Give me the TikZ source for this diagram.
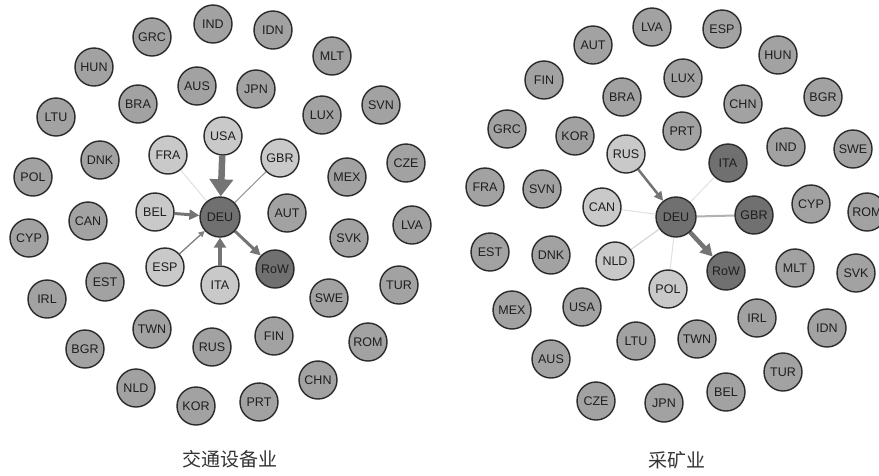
\documentclass[tikz,border=0pt]{standalone}
\usepackage{fontspec}
\setmainfont{Liberation Sans}
\newfontfamily\cjk{Noto Sans CJK SC}
\usetikzlibrary{arrows.meta,backgrounds}
\definecolor{midg}{HTML}{A2A2A2}
\definecolor{liteg}{HTML}{C9C9C9}
\definecolor{darkg}{HTML}{707070}
\definecolor{bord}{HTML}{2A2A2A}
\definecolor{txt}{HTML}{1E1E1E}
\definecolor{edg}{HTML}{747474}
\begin{document}
\begin{tikzpicture}[x=1pt,y=-1pt,
  cn/.style={circle,draw=bord,line width=1.4pt,minimum size=38pt,inner sep=0pt,
    font=\fontsize{12.5}{13}\selectfont,text=txt},
  mid/.style={cn,fill=midg},
  lite/.style={cn,fill=liteg},
  dark/.style={cn,fill=darkg},
  big/.style={cn,fill=darkg,minimum size=40pt},
  title/.style={font=\cjk\fontsize{19}{20}\selectfont,text=black!80},
  arr/.style={draw=edg,line width=#1},
  faint/.style={draw=black!12,line width=1pt}]
\clip (0,0) rectangle (879,475);
% ---------------- left graph ----------------
\foreach \n/\x/\y in {IND/213/24,GRC/152/37,IDN/273/30,MLT/332/56,HUN/94/67,AUS/197/86,
  JPN/256/89,BRA/138/104,LTU/56/117,LUX/322/115,SVN/381/105,DNK/100/160,POL/33/177,
  CZE/406/163,MEX/347/177,AUT/287/213,CAN/88/221,LVA/412/225,CYP/29/238,SVK/349/238,
  EST/105/282,IRL/47/299,SWE/329/298,TUR/399/285,TWN/152/329,RUS/212/347,FIN/274/336,
  ROM/368/342,BGR/85/349,NLD/136/388,CHN/318/380,KOR/196/406,PRT/259/402}
  {\node[mid] (L\n) at (\x,\y) {\n};}
\foreach \n/\x/\y in {USA/223/136,FRA/168/155,GBR/280/158,BEL/155/212,ESP/165/267,ITA/220/285}
  {\node[lite] (L\n) at (\x,\y) {\n};}
\node[big] (LDEU) at (220,217) {DEU};
\node[dark] (LRoW) at (275,269) {RoW};
\begin{scope}[on background layer]
  \draw[faint] (LFRA) -- (LDEU);
  \draw[draw=black!40,line width=1.1pt] (LGBR) -- (LDEU);
  \draw[draw=black!50,line width=1.3pt,-{Triangle[width=6pt,length=6pt]}] (LESP) -- (LDEU);
  \draw[arr=6.5pt,-{Triangle[width=23pt,length=17pt]}] (LUSA) -- (LDEU);
  \draw[arr=3pt,-{Triangle[width=10pt,length=10pt]}] (LBEL) -- (LDEU);
  \draw[arr=4pt,-{Triangle[width=12pt,length=10pt]}] (LITA) -- (LDEU);
  \draw[arr=3pt,-{Triangle[width=10pt,length=10pt]}] (LDEU) -- (LRoW);
\end{scope}
\node[title] (Ltitle) at (230,459) {交通设备业};
% ---------------- right graph ----------------
\foreach \n/\x/\y in {LVA/652/27,ESP/722/29,AUT/593/45,HUN/778/55,FIN/544/80,LUX/683/78,
  BRA/622/97,CHN/743/104,BGR/823/97,GRC/507/129,KOR/575/136,PRT/682/131,IND/786/147,
  SWE/853/149,FRA/485/187,SVN/542/189,CYP/811/204,ROM/867/212,EST/490/252,DNK/551/255,
  MLT/795/268,SVK/856/273,MEX/512/310,USA/582/307,IRL/757/318,IDN/827/328,LTU/636/341,
  TWN/697/339,AUS/551/359,TUR/783/372,CZE/596/401,JPN/664/403,BEL/726/392}
  {\node[mid] (R\n) at (\x,\y) {\n};}
\foreach \n/\x/\y in {RUS/626/154,CAN/602/207,NLD/615/261,POL/668/289}
  {\node[lite] (R\n) at (\x,\y) {\n};}
\node[big] (RDEU) at (676,217) {DEU};
\foreach \n/\x/\y in {ITA/728/163,GBR/754/215,RoW/726/271}
  {\node[dark] (R\n) at (\x,\y) {\n};}
\begin{scope}[on background layer]
  \draw[faint] (RDEU) -- (RITA);
  \draw[faint] (RDEU) -- (RCAN);
  \draw[draw=black!18,line width=1pt] (RDEU) -- (RNLD);
  \draw[faint] (RDEU) -- (RPOL);
  \draw[draw=black!30,line width=2pt] (RDEU) -- (RGBR);
  \draw[arr=2.5pt,-{Triangle[width=9pt,length=9pt]}] (RRUS) -- (RDEU);
  \draw[arr=4.5pt,-{Triangle[width=13pt,length=12pt]}] (RDEU) -- (RRoW);
\end{scope}
\node[title] (Rtitle) at (677,460) {采矿业};
\end{tikzpicture}
\end{document}
